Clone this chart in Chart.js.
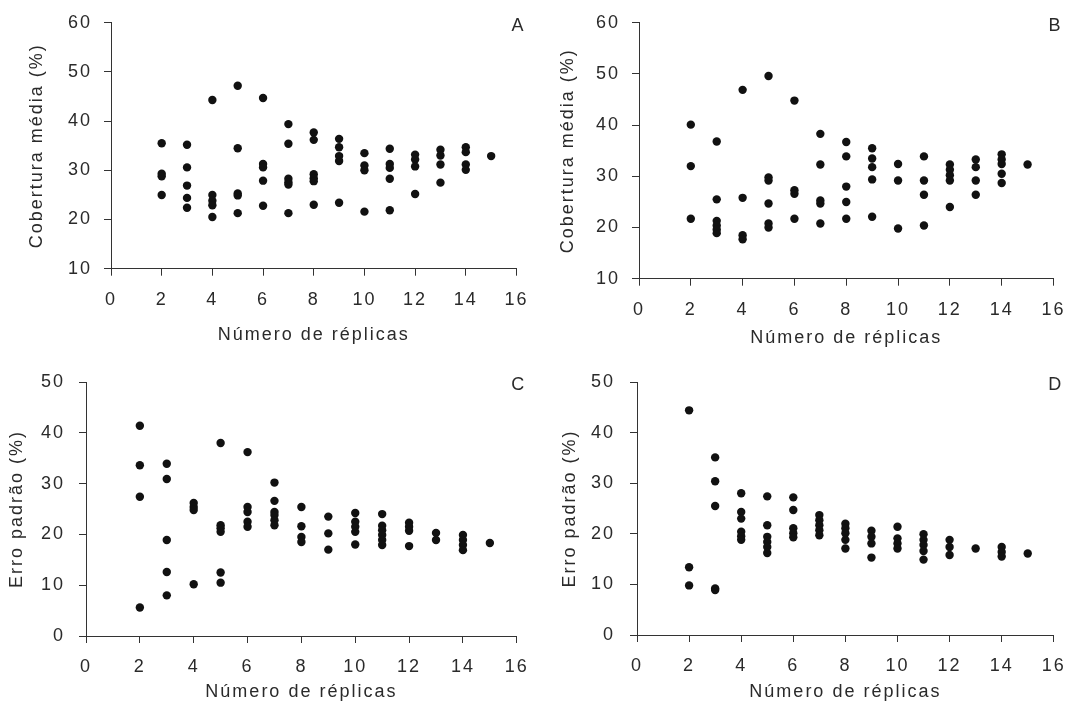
<!DOCTYPE html>
<html>
<head>
<meta charset="utf-8">
<script src="https://cdn.jsdelivr.net/npm/chart.js@4.4.1/dist/chart.umd.min.js"></script>
<style>
body { margin: 0; background: #fff; width: 1077px; height: 706px; position: relative; overflow: hidden; }
canvas { position: absolute; }
</style>
</head>
<body>
<canvas id="graficoA" width="540" height="350" style="left:0;top:0"></canvas>
<canvas id="graficoB" width="537" height="360" style="left:540px;top:0"></canvas>
<canvas id="graficoC" width="540" height="356" style="left:0;top:350px"></canvas>
<canvas id="graficoD" width="537" height="356" style="left:540px;top:350px"></canvas>
<script>
// número de réplicas (eixo x) e ticks
const replicas = [2, 3, 4, 5, 6, 7, 8, 9, 10, 11, 12, 13, 14, 15];
const ticksX = [0, 2, 4, 6, 8, 10, 12, 14, 16];
const ticksCobertura = [10, 20, 30, 40, 50, 60];
const ticksErro = [0, 10, 20, 30, 40, 50];

// A - cobertura média, um array por número de réplicas
const coberturaA = [
    [35.5, 29.3, 28.8, 25.0],
    [35.2, 30.6, 26.9, 24.4, 22.4],
    [44.3, 25.0, 23.8, 22.9, 20.5],
    [47.2, 34.5, 25.3, 24.9, 21.3],
    [44.7, 31.3, 30.6, 27.9, 22.8],
    [39.4, 35.4, 28.3, 27.6, 27.1, 21.3],
    [37.7, 36.2, 29.2, 28.4, 27.8, 23.0],
    [36.4, 34.7, 32.9, 31.9, 23.4],
    [33.5, 31.0, 30.0, 21.6],
    [34.4, 31.3, 30.5, 28.3, 21.9],
    [33.2, 32.2, 30.8, 25.2],
    [34.2, 33.0, 31.2, 27.5],
    [34.7, 33.7, 31.2, 30.1],
    [32.9]
];

// B - cobertura média
const coberturaB = [
    [40.1, 32.0, 21.7],
    [36.8, 25.5, 21.3, 20.4, 19.6, 18.9],
    [46.9, 25.8, 18.5, 17.7],
    [49.6, 29.8, 29.2, 24.7, 20.8, 20.0],
    [44.8, 27.3, 26.6, 21.7],
    [38.3, 32.3, 25.3, 24.7, 20.8],
    [36.7, 33.9, 28.0, 25.0, 21.7],
    [35.5, 33.5, 31.8, 29.4, 22.1],
    [32.4, 29.2, 19.8],
    [33.9, 29.2, 26.4, 20.4],
    [32.3, 31.3, 30.2, 29.2, 24.0],
    [33.3, 31.8, 29.2, 26.4],
    [34.3, 33.3, 32.4, 30.5, 28.7],
    [32.3]
];

// C - erro padrão
const erroC = [
    [41.4, 33.6, 27.4, 5.6],
    [33.9, 30.9, 18.9, 12.6, 8.0],
    [26.2, 25.4, 24.8, 10.2],
    [38.0, 21.8, 21.2, 20.5, 12.5, 10.5],
    [36.2, 25.4, 24.4, 22.5, 21.5],
    [30.2, 26.6, 24.4, 23.8, 22.8, 21.8],
    [25.4, 21.6, 19.5, 18.5],
    [23.5, 20.2, 17.0],
    [24.2, 22.5, 21.5, 20.5, 18.0],
    [24.0, 21.7, 20.8, 19.9, 18.9, 17.9],
    [22.3, 21.5, 20.7, 17.7],
    [20.3, 18.9],
    [19.9, 18.9, 17.9, 16.9],
    [18.3]
];

// D - erro padrão
const erroD = [
    [44.4, 13.4, 9.8],
    [35.1, 30.4, 25.5, 9.2, 8.9],
    [28.0, 24.3, 23.0, 20.4, 19.5, 18.8],
    [27.4, 21.7, 19.4, 18.4, 17.4, 16.2],
    [27.2, 24.7, 21.1, 20.1, 19.3],
    [23.7, 22.7, 21.7, 20.7, 19.7],
    [22.0, 21.1, 20.1, 18.8, 17.1],
    [20.6, 19.4, 18.1, 15.3],
    [21.4, 19.1, 18.1, 17.1],
    [19.9, 18.8, 17.8, 16.6, 14.9],
    [18.8, 17.4, 15.8],
    [17.1],
    [17.4, 16.4, 15.5],
    [16.1]
];

const fonte = { family: '"Liberation Sans", Arial, sans-serif', size: 18 };
const corTexto = '#2a2a2a';

// letra do painel + espaçamento entre letras
const letraPainel = {
    id: 'letraPainel',
    beforeDraw(chart) {
        chart.ctx.letterSpacing = '2px';
    },
    afterDraw(chart, args, opts) {
        const ctx = chart.ctx;
        const area = chart.chartArea;
        ctx.save();
        ctx.letterSpacing = '0px';
        ctx.font = '18px "Liberation Sans", Arial, sans-serif';
        ctx.fillStyle = corTexto;
        ctx.textAlign = 'center';
        ctx.textBaseline = 'middle';
        ctx.fillText(opts.texto, area.right + 1, area.top + 3);
        ctx.restore();
    }
};

function montarGrafico(id, valores, ticksY, tituloY, cfg) {
    const pontos = [];
    replicas.forEach((r, i) => {
        valores[i].forEach(v => pontos.push({ x: r, y: v }));
    });

    return new Chart(document.getElementById(id), {
        type: 'scatter',
        data: {
            datasets: [{
                data: pontos,
                backgroundColor: '#111',
                borderColor: '#111',
                borderWidth: 0,
                pointRadius: 4.2,
                pointHoverRadius: 4.2
            }]
        },
        options: {
            responsive: false,
            animation: false,
            events: [],
            layout: { padding: { left: 0, top: cfg.topo, right: cfg.direita, bottom: 0 } },
            plugins: {
                legend: { display: false },
                tooltip: { enabled: false },
                letraPainel: { texto: cfg.letra }
            },
            scales: {
                x: {
                    type: 'linear',
                    min: ticksX[0],
                    max: ticksX[ticksX.length - 1],
                    afterBuildTicks: s => { s.ticks = ticksX.map(v => ({ value: v })); },
                    afterFit: s => { s.height = cfg.alturaX; },
                    ticks: { color: corTexto, font: fonte, padding: cfg.padX, maxRotation: 0 },
                    grid: { drawOnChartArea: false, tickLength: 7, color: '#333' },
                    border: { color: '#333', width: 1 },
                    title: {
                        display: true,
                        text: 'Número de réplicas',
                        color: corTexto,
                        font: fonte,
                        padding: { top: 0, bottom: cfg.padTituloX }
                    }
                },
                y: {
                    type: 'linear',
                    min: ticksY[0],
                    max: ticksY[ticksY.length - 1],
                    afterBuildTicks: s => { s.ticks = ticksY.map(v => ({ value: v })); },
                    afterFit: s => { s.width = cfg.larguraY; },
                    ticks: { color: corTexto, font: fonte, padding: cfg.padY },
                    grid: { drawOnChartArea: false, tickLength: 7, color: '#333' },
                    border: { color: '#333', width: 1 },
                    title: {
                        display: true,
                        text: tituloY,
                        color: corTexto,
                        font: fonte,
                        padding: { top: cfg.padTituloY, bottom: 0 }
                    }
                }
            }
        },
        plugins: [letraPainel]
    });
}

montarGrafico('graficoA', coberturaA, ticksCobertura, 'Cobertura média (%)', {
    letra: 'A', topo: 22, direita: 22, alturaX: 81.3, larguraY: 111,
    padX: 13.5, padY: 12, padTituloX: 4.2, padTituloY: 26
});
montarGrafico('graficoB', coberturaB, ticksCobertura, 'Cobertura média (%)', {
    letra: 'B', topo: 22, direita: 13, alturaX: 81.3, larguraY: 99,
    padX: 13.5, padY: 12, padTituloX: 11, padTituloY: 17
});
montarGrafico('graficoC', erroC, ticksErro, 'Erro padrão (%)', {
    letra: 'C', topo: 32, direita: 20, alturaX: 70, larguraY: 86,
    padX: 13.2, padY: 14, padTituloX: 3.2, padTituloY: 6
});
montarGrafico('graficoD', erroD, ticksErro, 'Erro padrão (%)', {
    letra: 'D', topo: 32, direita: 12, alturaX: 71, larguraY: 97,
    padX: 13.2, padY: 15, padTituloX: 3.2, padTituloY: 19
});
</script>
</body>
</html>
